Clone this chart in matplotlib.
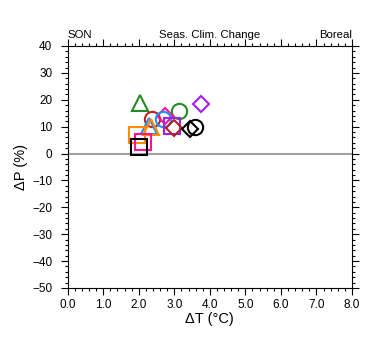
import matplotlib
matplotlib.use("Agg")
import matplotlib.pyplot as plt
from matplotlib.ticker import MultipleLocator, FormatStrFormatter

plt.rcParams['font.family'] = ['Liberation Sans', 'DejaVu Sans']

# seasonal climate change per model: temperature change (degC), precip change (%)
dT = [2.03, 3.75, 3.13, 2.38, 2.74, 2.68, 2.93, 2.99, 3.58, 3.44, 2.30, 2.33, 1.94, 2.13, 2.01]
dP = [18.8, 18.3, 15.8, 13.0, 14.0, 12.8, 10.2, 9.4, 10.0, 9.0, 10.2, 9.8, 7.0, 4.2, 2.6]
shape = ['^', 'D', 'o', 'o', 'D', 'o', 's', 'D', 'o', 'D', '^', '^', 's', 's', 's']
color = ['#228b22', '#a020f0', '#228b22', '#c02020', '#ff1493', '#1e90ff', '#a020f0',
         '#b22222', 'black', 'black', '#1e90ff', '#ff8c00', '#ff8c00', '#ff1493', 'black']

fig = plt.figure(figsize=(3.8, 3.55), dpi=100)
ax = fig.add_axes([67.7/380, 1-288/355, (352-67.7)/380, (288-46)/355])

ax.axhline(0, color='#a0a0a0', lw=1.5, zorder=1)
for x, y, m, c in zip(dT, dP, shape, color):
    ms = 8.3 if m == 'D' else 11
    ax.plot(x, y, marker=m, ms=ms, mfc='none', mec=c, mew=1.5, ls='none', zorder=3)

ax.set_xlim(0, 8)
ax.set_ylim(-50, 40)
ax.xaxis.set_major_locator(MultipleLocator(1))
ax.xaxis.set_minor_locator(MultipleLocator(0.2))
ax.xaxis.set_major_formatter(FormatStrFormatter('%.1f'))
ax.yaxis.set_major_locator(MultipleLocator(10))
ax.yaxis.set_minor_locator(MultipleLocator(2))
ax.tick_params(which='both', direction='out', top=True, right=True, labelsize=8.5, width=0.8)
ax.tick_params(which='major', length=5)
ax.tick_params(which='minor', length=2.3)
ax.tick_params(axis='x', pad=3)
ax.tick_params(axis='y', pad=6)
for s in ax.spines.values():
    s.set_linewidth(0.8)

ax.set_xlabel('ΔT (°C)', fontsize=10.5, labelpad=1)
ax.set_ylabel('ΔP (%)', fontsize=10.5, labelpad=3)
ax.set_title('SON', loc='left', fontsize=8.2, pad=6)
ax.set_title('Seas. Clim. Change', loc='center', fontsize=8.2, pad=6)
ax.set_title('Boreal', loc='right', fontsize=8.2, pad=6)

fig.savefig('out.png', dpi=100)
